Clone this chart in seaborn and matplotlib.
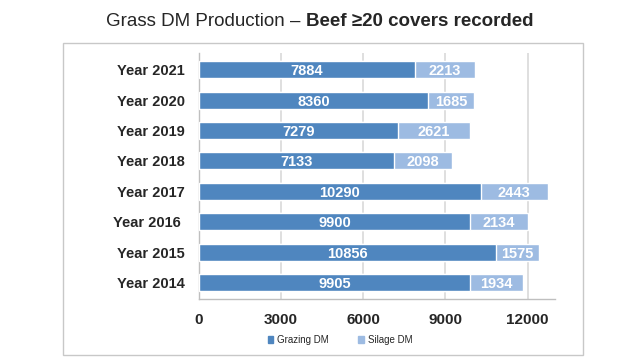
import numpy as np
import pandas as pd
import matplotlib
matplotlib.use("Agg")
import matplotlib.pyplot as plt
import seaborn as sns
from matplotlib.patches import Rectangle, Patch

years = ["Year 2021", "Year 2020", "Year 2019", "Year 2018",
         "Year 2017", "Year 2016 ", "Year 2015", "Year 2014"]
grazing = [7884, 8360, 7279, 7133, 10290, 9900, 10856, 9905]
silage = [2213, 1685, 2621, 2098, 2443, 2134, 1575, 1934]
xticks = [0, 3000, 6000, 9000, 12000]

c_graz = "#4f86bf"
c_sil = "#9dbbe2"

df = pd.DataFrame({"year": years, "grazing": grazing, "silage": silage})
df["total"] = df["grazing"] + df["silage"]

sns.set_style("white")
plt.rcParams["font.family"] = ["Liberation Sans", "DejaVu Sans"]

fig = plt.figure(figsize=(6.4, 3.6), dpi=100)
ax = fig.add_axes([0.311, 0.169, 0.556, 0.684])

# outer frame
fig.patches.append(Rectangle((63 / 640, 5 / 360), 520 / 640, 312 / 360,
                             transform=fig.transFigure, fill=False,
                             edgecolor="#c8c8c8", linewidth=1.0))

sns.barplot(data=df, y="year", x="total", color=c_sil, orient="h",
            width=0.56, saturation=1, ax=ax, zorder=2)
sns.barplot(data=df, y="year", x="grazing", color=c_graz, orient="h",
            width=0.56, saturation=1, ax=ax, zorder=3)

for i, (g, s) in enumerate(zip(grazing, silage)):
    ax.text(g / 2, i, str(g), ha="center", va="center_baseline", color="white",
            fontsize=10.5, fontweight="bold", zorder=4)
    ax.text(g + s / 2, i, str(s), ha="center", va="center_baseline", color="white",
            fontsize=10.5, fontweight="bold", zorder=4)

ax.set_xlim(0, 13000)
ax.set_ylim(7.55, -0.55)
ax.set_xticks(xticks)
ax.set_xticklabels([str(t) for t in xticks], fontsize=11, fontweight="bold")
ax.tick_params(axis="x", length=0, pad=10)
ax.tick_params(axis="y", length=0, pad=10)
for lab in ax.get_yticklabels():
    lab.set_fontsize(10.5)
    lab.set_fontweight("bold")
ax.set_xlabel("")
ax.set_ylabel("")
ax.grid(axis="x", color="#d9d9d9", linewidth=1.2, zorder=0)
ax.set_axisbelow(True)
for side in ["top", "right"]:
    ax.spines[side].set_visible(False)
for side in ["left", "bottom"]:
    ax.spines[side].set_color("#bfbfbf")
    ax.spines[side].set_linewidth(1.0)

handles = [Patch(color=c_graz, label="Grazing DM"), Patch(color=c_sil, label="Silage DM")]
fig.legend(handles=handles, loc="center", bbox_to_anchor=(340 / 640, 1 - 340 / 360),
           ncol=2, frameon=False, fontsize=7, handlelength=0.6, handleheight=0.6,
           handletextpad=0.4, columnspacing=3.0)

# title with mixed weights
t1 = fig.text(0, 1 - 22 / 360, "Grass DM Production \u2013 ", fontsize=13.5, va="center")
t2 = fig.text(0, 1 - 22 / 360, "Beef \u226520 covers recorded", fontsize=13.5,
              fontweight="bold", va="center")
fig.canvas.draw()
r = fig.canvas.get_renderer()
w1 = t1.get_window_extent(r).width
w2 = t2.get_window_extent(r).width
W = fig.bbox.width
x0 = (W / 2 - (w1 + w2) / 2) / W
t1.set_x(x0)
t2.set_x(x0 + w1 / W)

fig.savefig("out.png", dpi=100)
